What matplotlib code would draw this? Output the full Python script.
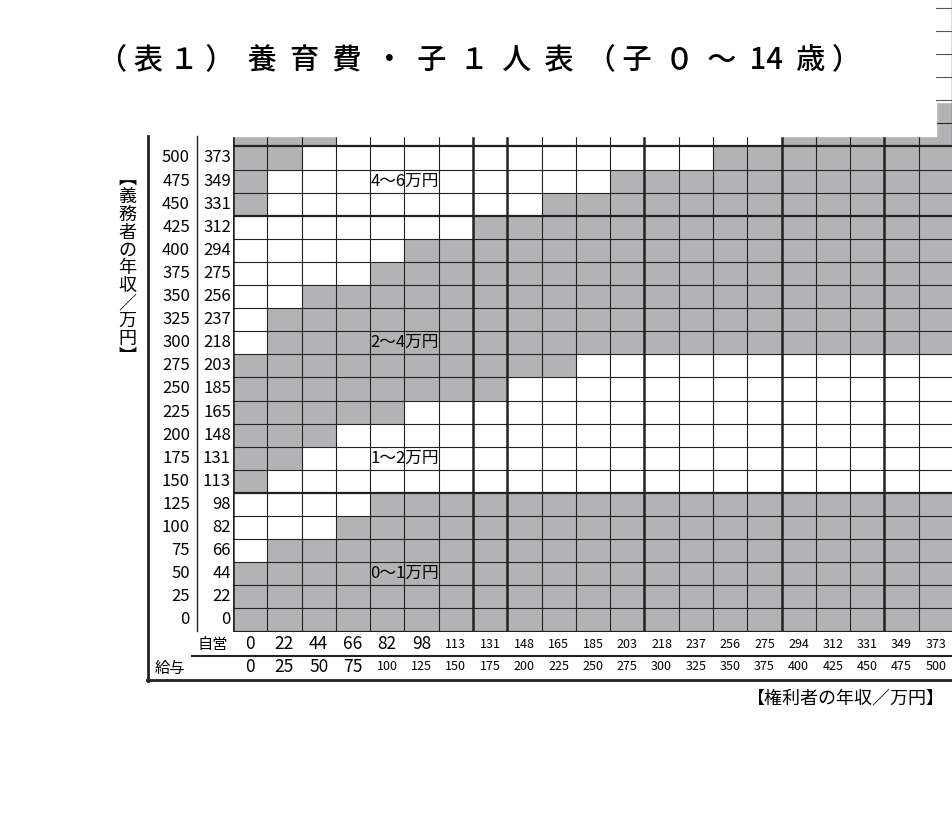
import matplotlib
matplotlib.use("Agg")
import matplotlib.pyplot as plt
import numpy as np
from matplotlib.lines import Line2D
from matplotlib.patches import Rectangle

plt.rcParams['font.family'] = ['Noto Sans CJK JP', 'DejaVu Sans']

# obligor income rows (bottom to top), salary / self-employed
obligor_salary = [0, 25, 50, 75, 100, 125, 150, 175, 200, 225, 250, 275, 300, 325, 350, 375, 400, 425, 450, 475, 500]
obligor_self = [0, 22, 44, 66, 82, 98, 113, 131, 148, 165, 185, 203, 218, 237, 256, 275, 294, 312, 331, 349, 373]
# obligee income columns
obligee_self = [0, 22, 44, 66, 82, 98, 113, 131, 148, 165, 185, 203, 218, 237, 256, 275, 294, 312, 331, 349, 373]
obligee_salary = [0, 25, 50, 75, 100, 125, 150, 175, 200, 225, 250, 275, 300, 325, 350, 375, 400, 425, 450, 475, 500]

# cell shading per row, bottom to top (G = gray band, W = white band); extra rows above 500 are mostly hidden
rows = [
    "GGGGGGGGGGGGGGGGGGGGG",  # 0
    "GGGGGGGGGGGGGGGGGGGGG",  # 25
    "GGGGGGGGGGGGGGGGGGGGG",  # 50
    "WGGGGGGGGGGGGGGGGGGGG",  # 75
    "WWWGGGGGGGGGGGGGGGGGG",  # 100
    "WWWWGGGGGGGGGGGGGGGGG",  # 125
    "GWWWWWWWWWWWWWWWWWWWW",  # 150
    "GGWWWWWWWWWWWWWWWWWWW",  # 175
    "GGGWWWWWWWWWWWWWWWWWW",  # 200
    "GGGGGWWWWWWWWWWWWWWWW",  # 225
    "GGGGGGGGWWWWWWWWWWWWW",  # 250
    "GGGGGGGGGGWWWWWWWWWWW",  # 275
    "WGGGGGGGGGGGGGGGGGGGG",  # 300
    "WGGGGGGGGGGGGGGGGGGGG",  # 325
    "WWGGGGGGGGGGGGGGGGGGG",  # 350
    "WWWWGGGGGGGGGGGGGGGGG",  # 375
    "WWWWWGGGGGGGGGGGGGGGG",  # 400
    "WWWWWWWGGGGGGGGGGGGGG",  # 425
    "GWWWWWWWWGGGGGGGGGGGG",  # 450
    "GWWWWWWWWWWGGGGGGGGGG",  # 475
    "GGWWWWWWWWWWWWGGGGGGG",  # 500
    "GGGWWWWWWWWWWWWWGGGGG",  # 525
    "GGGWWWWWWWWWWWWWWGGGG",  # 550
    "GGGGWWWWWWWWWWWWWWWWW",  # 575
    "GGGGWWWWWWWWWWWWWWWWW",  # 600
    "GGGGGWWWWWWWWWWWWWWWW",  # 625
    "GGGGGWWWWWWWWWWWWWWWW",  # 650
    "GGGGGGWWWWWWWWWWWWWWW",  # 675
]
band_labels = [("4～6万円", 19), ("2～4万円", 12), ("1～2万円", 7), ("0～1万円", 2)]

W, H = 953, 818
fig = plt.figure(figsize=(W / 100, H / 100), dpi=100)

def fx(x): return x / W
def fy(y): return 1 - y / H

gx0, gx1, gy0, rowh = 233, 953, 631.5, 23.1
ncol = 21
ax = fig.add_axes([fx(gx0), fy(gy0), (gx1 - gx0) / W, gy0 / H])
ymax = gy0 / rowh
ax.set_xlim(0, ncol)
ax.set_ylim(0, ymax)
ax.axis('off')

grid = np.array([[1 if c == 'G' else 0 for c in r] for r in rows])
ax.pcolormesh(np.arange(ncol + 1), np.arange(len(rows) + 1), grid,
              cmap=matplotlib.colors.ListedColormap(['white', '#b3b3b6']),
              vmin=0, vmax=1, shading='flat')
for i in range(ncol + 1):
    lw = 1.8 if i in (0, 7, 8, 12, 16, 19) else 0.8
    ax.axvline(i, color='#222222', lw=lw)
for j in range(len(rows) + 1):
    lw = 1.6 if j in (0, 6, 18, 21) else 0.8
    ax.axhline(j, color='#222222', lw=lw)

# white cover over top region (cropped source)
cover_y = (gy0 - 136) / rowh
ax.add_patch(Rectangle((0 - 0.1, cover_y), 20.5 + 0.1, ymax, color='white', zorder=5, clip_on=False))
ax.add_patch(Rectangle((20.5, (gy0 - 102) / rowh), 0.5, ymax, color='white', zorder=4, clip_on=False))
for j in range(23, len(rows) + 1):
    ax.plot([20.5, 21], [j, j], color='#555555', lw=0.8, zorder=6)
ax.plot([20.98, 20.98], [21, ymax], color='#555555', lw=1.0, zorder=6)

for text, r in band_labels:
    ax.text(4.0, r + 0.5, text, fontsize=12, va='center', ha='left', zorder=7)

# row labels
for i, (s, e) in enumerate(zip(obligor_salary, obligor_self)):
    y = gy0 - (i + 0.5) * rowh
    fig.text(fx(190), fy(y), str(s), ha='right', va='center', fontsize=12)
    fig.text(fx(231), fy(y), str(e), ha='right', va='center', fontsize=12)

# column labels
for i, (e, s) in enumerate(zip(obligee_self, obligee_salary)):
    x = gx0 + (i + 0.5) * (gx1 - gx0) / ncol
    fsz = 12.5 if e < 100 else 9
    fig.text(fx(x), fy(644), str(e), ha='center', va='center', fontsize=fsz)
    fsz = 12.5 if s < 100 else 9
    fig.text(fx(x), fy(667), str(s), ha='center', va='center', fontsize=fsz)
fig.text(fx(213), fy(645), "自営", ha='center', va='center', fontsize=11)
fig.text(fx(170), fy(668), "給与", ha='center', va='center', fontsize=11)

def line(x0, y0, x1, y1, lw):
    fig.add_artist(Line2D([fx(x0), fx(x1)], [fy(y0), fy(y1)], color='#222222', lw=lw))

line(148, 136, 148, 681, 2.0)
line(197, 136, 197, 631, 1.0)
line(192, 656, 953, 656, 1.5)
line(147, 680, 953, 680, 2.0)

fig.text(fx(480), fy(60), "（ 表 １ ）  養  育  費  ・  子  １  人  表  （ 子  ０  ～  14  歳 ）",
         ha='center', va='center', fontsize=21, fontweight='medium')
fig.text(fx(945), fy(698), "【権利者の年収／万円】", ha='right', va='center', fontsize=13)
fig.text(fx(127), fy(268), "\n".join("︻義務者の年収／万円︼"), ha='center', va='center',
         fontsize=13, linespacing=0.98)

fig.savefig("out.png", dpi=100)
